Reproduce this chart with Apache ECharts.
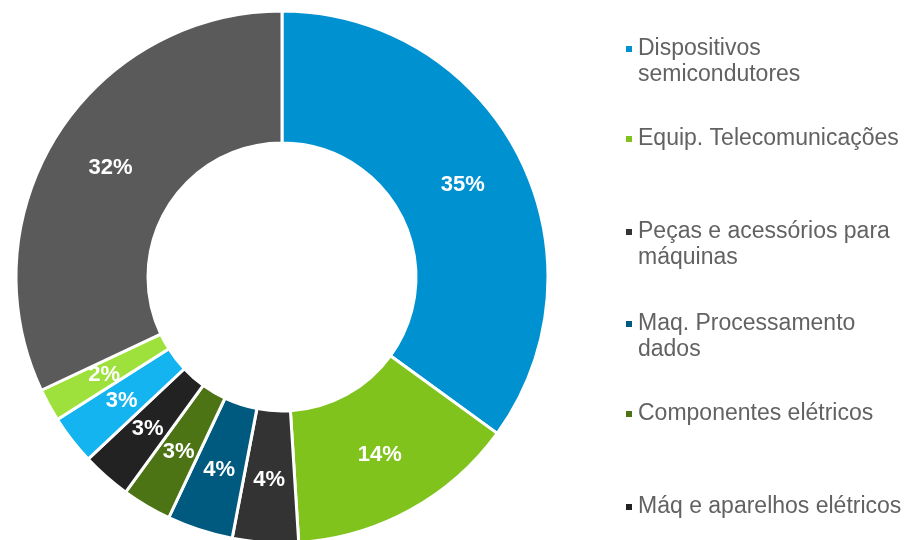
<!DOCTYPE html>
<html>
<head>
<meta charset="utf-8">
<script src="https://cdn.jsdelivr.net/npm/echarts@6/dist/echarts.min.js"></script>
<style>
  html, body { margin: 0; padding: 0; background: #fff; }
  #chart { width: 910px; height: 540px; }
</style>
</head>
<body>
<div id="chart"></div>
<script>
// categories in slice order (clockwise from 12 o'clock)
const categories = [
  'Dispositivos semicondutores',
  'Equip. Telecomunicações',
  'Peças e acessórios para máquinas',
  'Maq. Processamento dados',
  'Componentes elétricos',
  'Máq e aparelhos elétricos',
  'Instrumentos de precisão',
  'Aparelhos ópticos',
  'Outros'
]
// legend text as wrapped in the picture
const legendLabels = [
  'Dispositivos\nsemicondutores',
  'Equip. Telecomunicações',
  'Peças e acessórios para\nmáquinas',
  'Maq. Processamento\ndados',
  'Componentes elétricos',
  'Máq e aparelhos elétricos'
]
// share in %
const shares = [35, 14, 4, 4, 3, 3, 3, 2, 32]
const colors = ['#0091d1', '#80c31c', '#333333', '#005a80', '#4c7314', '#222222', '#14b4f0', '#9ee03c', '#5a5a5a']

const chart = echarts.init(document.getElementById('chart'))

const FONT = 'Liberation Sans, Arial, sans-serif'
const LINE_H = 26
// y of the first text line of each visible legend entry
const legendLineY = [49, 139, 232, 324, 414, 507]

// one legend per entry so each sits on its own slot;
// two-line entries get an empty first line so the marker lines up with the first text line
const legends = legendLabels.map((label, i) => {
  const twoLines = label.indexOf('\n') >= 0
  const boxH = twoLines ? LINE_H * 3 : LINE_H
  return {
    orient: 'vertical',
    left: 624,
    top: legendLineY[i] - boxH / 2,
    padding: 0,
    itemWidth: 8,
    itemHeight: 8,
    icon: 'rect',
    data: [categories[i]],
    formatter: () => (twoLines ? '\n' + label : label),
    textStyle: {
      fontFamily: FONT,
      fontSize: 23,
      lineHeight: LINE_H,
      color: '#626262'
    }
  }
})

const option = {
  animation: false,
  color: colors,
  legend: legends,
  series: [
    {
      type: 'pie',
      center: [282, 277],
      radius: [134, 266],
      startAngle: 90,
      clockwise: true,
      avoidLabelOverlap: false,
      itemStyle: { borderColor: '#fff', borderWidth: 3 },
      label: {
        show: true,
        position: 'inside',
        formatter: '{c}%',
        color: '#fff',
        fontFamily: FONT,
        fontWeight: 'bold',
        fontSize: 22
      },
      labelLine: { show: false },
      emphasis: { disabled: true },
      data: categories.map((name, i) => ({ name: name, value: shares[i] }))
    }
  ]
}

chart.setOption(option)
</script>
</body>
</html>
